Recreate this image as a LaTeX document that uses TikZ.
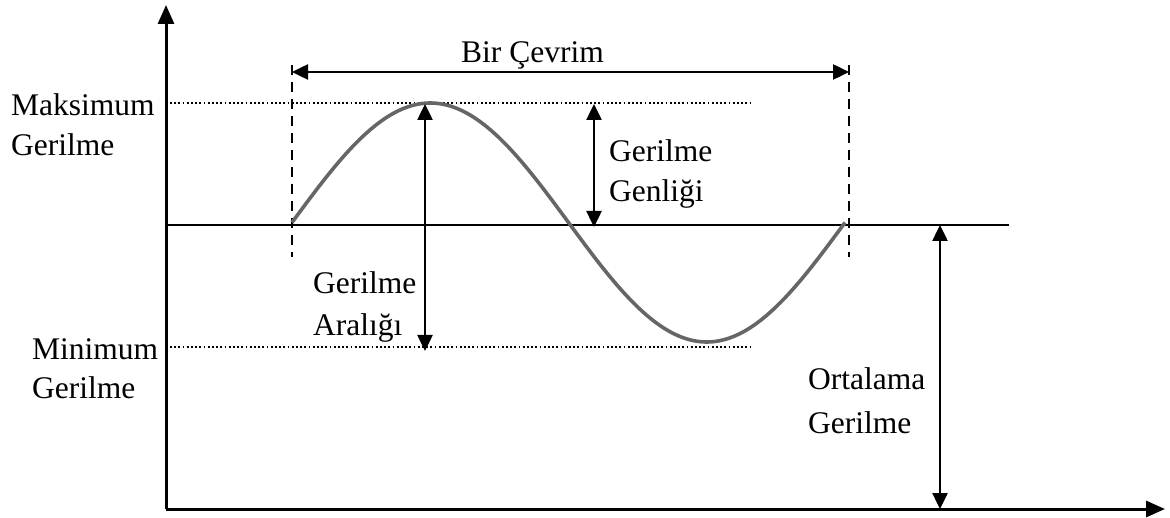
\documentclass[tikz,border=0pt]{standalone}
\usepackage{fontspec}
\setmainfont{Liberation Serif}
\usetikzlibrary{arrows.meta}
\begin{document}
\begin{tikzpicture}[x=1pt,y=-1pt,
  lbl/.style={anchor=base west,inner sep=0pt,font=\fontsize{31.5}{40}\selectfont},
  axis/.style={line width=3pt,-{Triangle[length=19pt,width=16pt]}},
  dim/.style={line width=2.5pt,{Triangle[length=16pt,width=15pt]}-{Triangle[length=16pt,width=15pt]}},
  guide/.style={line width=1.8pt,dash pattern=on 1.8pt off 2.4pt},
  vdash/.style={line width=2.4pt,dash pattern=on 10pt off 7pt}]
\useasboundingbox (0,0) rectangle (1170,518);
% coordinates
\coordinate (O) at (166,509);
\coordinate (Ytop) at (166,5);
\coordinate (Xend) at (1165,509);
\coordinate (M0) at (166,225);
\coordinate (M1) at (1009,225);
\coordinate (Mx0) at (170,103);
\coordinate (Mx1) at (752,103);
\coordinate (Mn0) at (170,347);
\coordinate (Mn1) at (752,347);
\coordinate (D1t) at (292,65);
\coordinate (D1b) at (292,257);
\coordinate (D2t) at (849,65);
\coordinate (D2b) at (849,257);
\coordinate (C1) at (292,72);
\coordinate (C2) at (849,72);
\coordinate (Ra) at (425,104);
\coordinate (Rb) at (425,351);
\coordinate (Aa) at (594,104);
\coordinate (Ab) at (594,227);
\coordinate (Oa) at (940,225);
\coordinate (Ob) at (940,509);
% guides
\draw[guide] (Mx0) -- (Mx1);
\draw[guide] (Mn0) -- (Mn1);
\draw[line width=2.2pt] (M0) -- (M1);
\draw[vdash] (D1t) -- (D1b);
\draw[vdash] (D2t) -- (D2b);
% sine
\draw[line width=3.6pt,color=black!60] plot[domain=0:360,samples=120,smooth] ({292+1.53611*\x},{222.5-119.5*sin(\x)});
% axes
\draw[axis] (O) -- (Ytop);
\draw[axis] (O) -- (Xend);
% dimension arrows
\draw[dim] (C1) -- (C2);
\draw[dim] (Ra) -- (Rb);
\draw[dim] (Aa) -- (Ab);
\draw[dim] (Oa) -- (Ob);
% labels
\node[lbl] (t1) at (461,63) {Bir Çevrim};
\node[lbl] (t2) at (11,116) {Maksimum};
\node[lbl] (t3) at (11,156) {Gerilme};
\node[lbl] (t4) at (32,360) {Minimum};
\node[lbl] (t5) at (32,399) {Gerilme};
\node[lbl] (t6) at (609,162) {Gerilme};
\node[lbl] (t7) at (609,202) {Genliği};
\node[lbl] (t8) at (313,294) {Gerilme};
\node[lbl] (t9) at (313,336) {Aralığı};
\node[lbl] (t10) at (808,390) {Ortalama};
\node[lbl] (t11) at (808,433) {Gerilme};
\end{tikzpicture}
\end{document}
